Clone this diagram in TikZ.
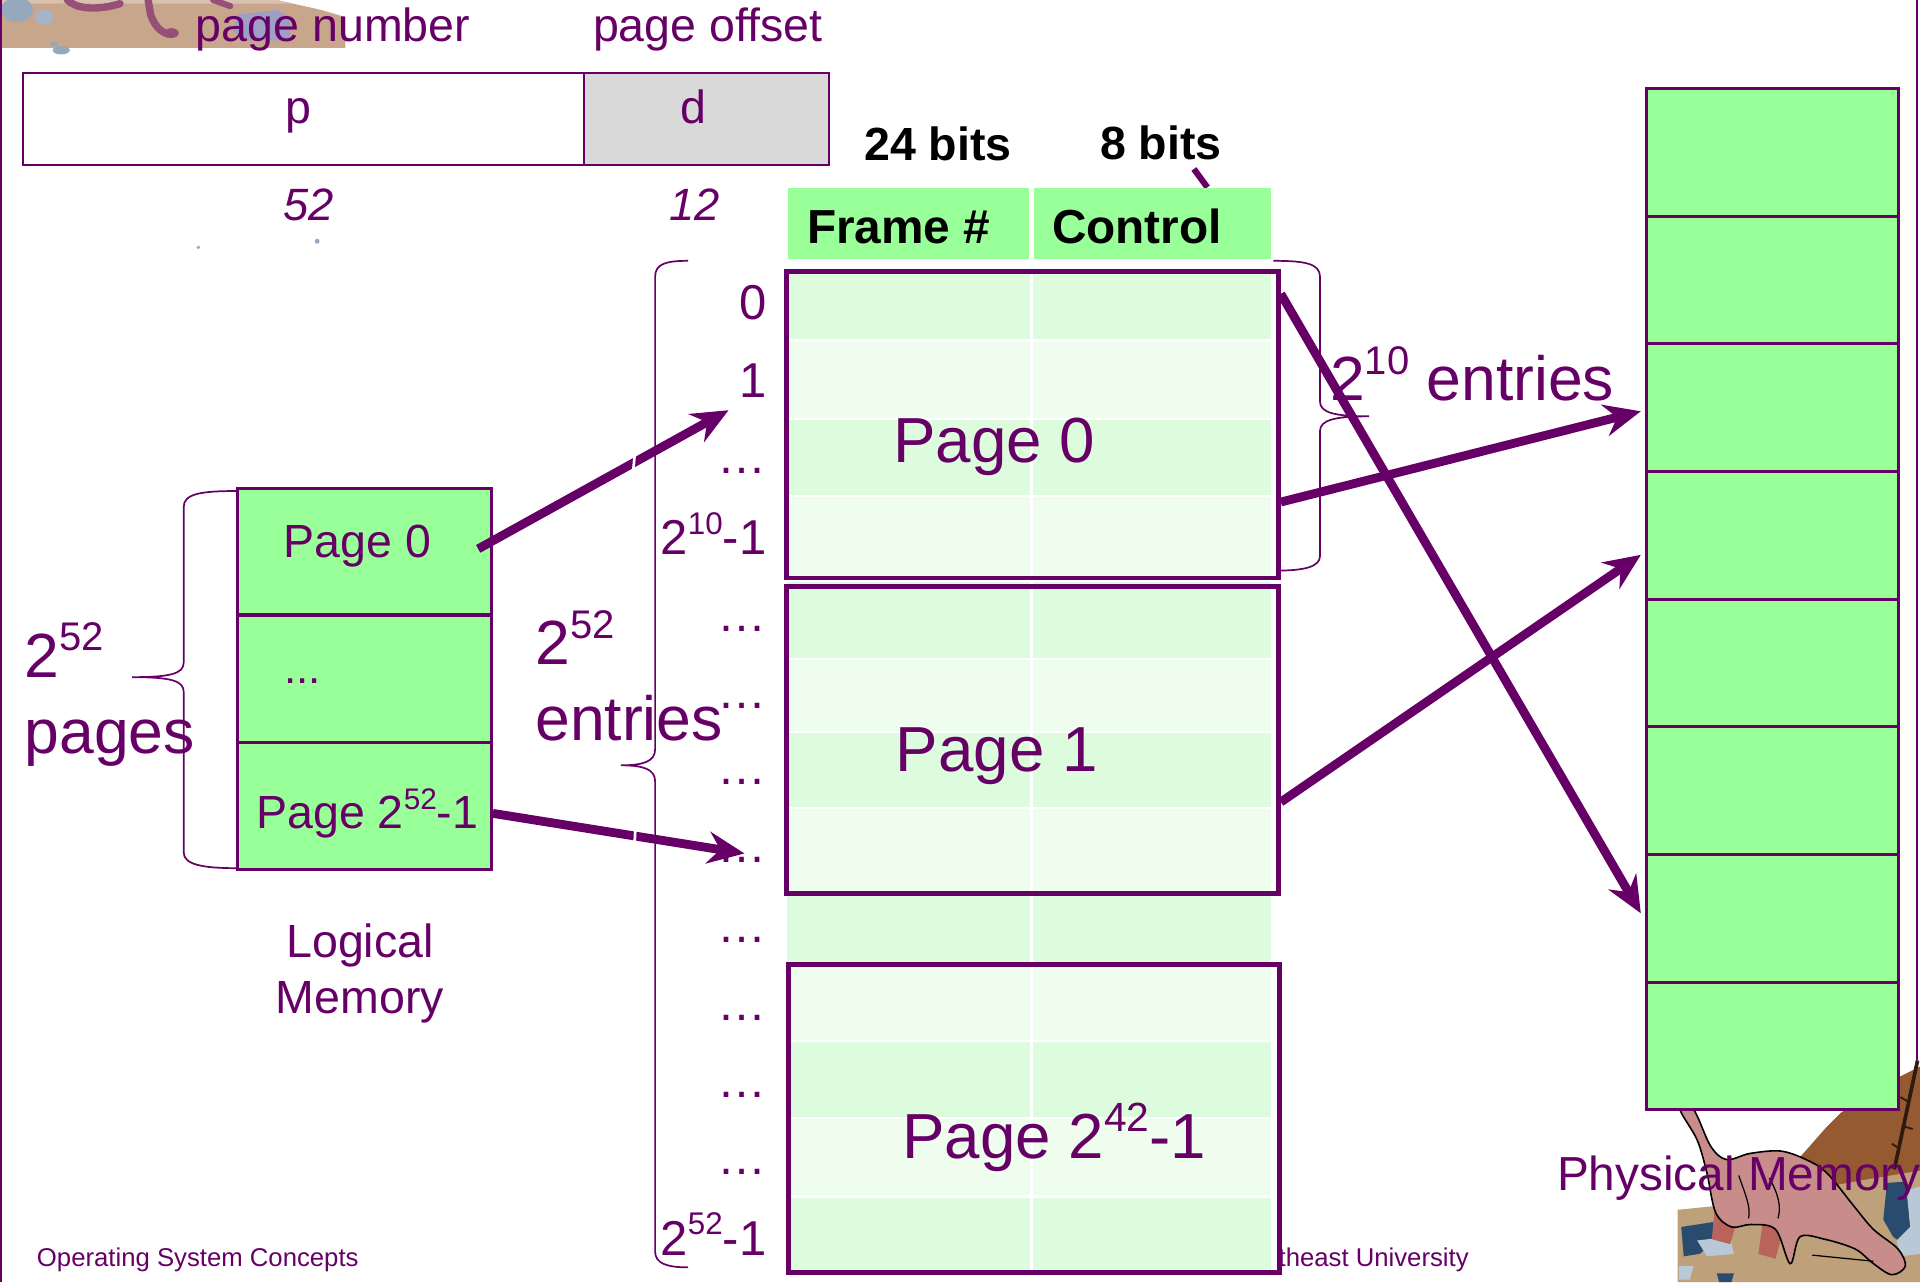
\documentclass[tikz,border=0pt]{standalone}
\usepackage{fontspec}
\setmainfont{Liberation Sans}
\usetikzlibrary{arrows.meta,calc}
\definecolor{plum}{RGB}{102,0,102}
\definecolor{memgreen}{RGB}{153,255,153}
\definecolor{rowA}{RGB}{221,252,221}
\definecolor{rowB}{RGB}{238,253,238}
\definecolor{offgray}{RGB}{217,217,217}
\definecolor{sand}{RGB}{200,166,140}
\definecolor{ground}{RGB}{190,160,122}
\definecolor{dirt}{RGB}{150,90,50}
\definecolor{dino}{RGB}{200,140,138}
\definecolor{dinoleg}{RGB}{185,100,90}
\definecolor{tentacle}{RGB}{150,80,120}
\definecolor{rockdark}{RGB}{40,75,110}
\definecolor{rocklight}{RGB}{185,200,215}
\definecolor{rockgrey}{RGB}{150,168,188}
\newcommand\sups[1]{\raisebox{0.42em}{\scalebox{0.64}{#1}}}
\newcommand\fs[1]{\fontsize{#1}{#1}\selectfont}
\tikzset{
  lbl/.style={text=plum, inner sep=0, anchor=base},
  lblw/.style={lbl, anchor=base west},
  lble/.style={lbl, anchor=base east},
  cell/.style={draw=plum, line width=2.5, fill=memgreen, anchor=north west, inner sep=0},
  pagebox/.style={draw=plum, line width=4, anchor=north west, inner sep=0, minimum width=402, minimum height=250},
  arr/.style={draw=plum, line width=7.2, -{Stealth[length=30, width=26, inset=10]}},
  bracepath/.style={draw=plum, line width=1.4},
}
\begin{document}
\begin{tikzpicture}[x=1pt, y=-1pt]
\useasboundingbox (0,0) rectangle (1568,1047);

% scenery, top left corner
\fill[sand] (0,0) -- (226,0) -- (262,8) -- (282,14) -- (282,39) -- (0,39) -- cycle;
\fill[sand!70!white] (0,0) -- (226,0) -- (240,3) -- (0,3) -- cycle;
\fill[rockgrey] (14,8) ellipse [x radius=13, y radius=10];
\fill[rockgrey!85!white] (36,14) ellipse [x radius=8, y radius=6];
\fill[rockgrey] (50,41) ellipse [x radius=7, y radius=3.5];
\fill[rockgrey] (44,36) ellipse [x radius=3.5, y radius=2];
\fill[gray!75!blue!60!white] (190,25) -- (194,12) -- (226,8) -- (237,14) -- (237,33) -- (200,33) -- cycle;
\draw[tentacle, line width=6, line cap=round] (55,0) .. controls (62,7) and (78,9) .. (98,3);
\draw[tentacle, line width=6, line cap=round] (121,0) -- (123,12) .. controls (126,20) and (130,26) .. (138,28);
\fill[tentacle] (140,27) ellipse [x radius=6, y radius=4];
\draw[tentacle, line width=5, line cap=round] (174,0) -- (188,5);
\fill[rockgrey] (162,202) circle [radius=1.5];
\fill[rockgrey] (259,197) circle [radius=2];

% scenery, bottom right corner
\fill[dirt] (1468,968) -- (1470,945) -- (1492,920) -- (1503,909) -- (1530,890) -- (1552,879) -- (1568,871) -- (1568,968) -- cycle;
\fill[ground] (1370,1047) -- (1370,988) -- (1400,985) -- (1460,975) -- (1520,964) -- (1568,956) -- (1568,1047) -- cycle;
\draw[black!70!dirt, line width=3] (1566,866) -- (1547,955);
\draw[black!70!dirt, line width=1.5] (1559,900) -- (1552,896) (1555,920) -- (1562,922) (1551,938) -- (1545,934);
\fill[rockdark] (1373,1002) -- (1399,998) -- (1402,1013) -- (1388,1024) -- (1375,1026) -- cycle;
\fill[rocklight] (1386,1013) -- (1413,1010) -- (1416,1024) -- (1394,1026) -- cycle;
\fill[rocklight] (1371,1034) -- (1383,1034) -- (1380,1045) -- (1371,1045) -- cycle;
\fill[rockdark] (1402,1040) -- (1416,1040) -- (1414,1047) -- (1404,1047) -- cycle;
\fill[rockdark] (1541,966) -- (1557,965) -- (1560,1002) -- (1557,1018) -- (1546,1010) -- (1538,996) -- cycle;
\fill[rocklight] (1557,972) -- (1568,969) -- (1568,1024) -- (1552,1026) -- (1549,1013) -- (1560,1002) -- cycle;
\fill[dinoleg] (1400,990) -- (1398,1012) -- (1413,1016) -- (1420,992) -- cycle;
\fill[dinoleg] (1440,995) -- (1436,1024) -- (1450,1028) -- (1458,998) -- cycle;
\draw[black, line width=1.3, fill=dino] plot[smooth cycle, tension=0.55] coordinates {
  (1372,906) (1386,931) (1394,958) (1401,990) (1414,1002) (1430,1000)
  (1450,1004) (1462,1032) (1470,1010) (1490,1012) (1515,1020) (1530,1032)
  (1545,1041) (1556,1034) (1550,1020) (1530,1004) (1514,985) (1492,958)
  (1475,947) (1454,940) (1429,942) (1410,947) (1397,936) (1383,906)};
\draw[black, line width=1] (1420,960) .. controls (1425,975) and (1430,985) .. (1428,995)
  (1445,962) .. controls (1452,975) and (1455,985) .. (1452,995)
  (1480,1025) -- (1530,1030);

% slide frame lines
\draw[plum, line width=1.5] (1,0) -- (1,1047);
\draw[plum, line width=1.5] (1565.5,0) -- (1565.5,866);

% virtual address layout
\node (pfield) [draw=plum, line width=1.5, fill=white, anchor=north west, minimum width=458, minimum height=75, inner sep=0] at (18,59) {};
\node (dfield) [draw=plum, line width=1.5, fill=offgray, anchor=north west, minimum width=200, minimum height=75, inner sep=0] at (476,59) {};
\node (pnum) [lbl, font=\fs{38}] at (272,34) {page number};
\node (poff) [lbl, font=\fs{38}] at (578,34) {page offset};
\node (ptxt) [lbl, font=\fs{38}] at (244,101) {p};
\node (dtxt) [lbl, font=\fs{38}] at (566,101) {d};
\node (pbits) [lbl, font=\fs{37}\itshape] at (252,180) {52};
\node (dbits) [lbl, font=\fs{37}\itshape] at (567,180) {12};

% page table entry layout
\node (b24) [lbl, text=black, font=\fs{38}\bfseries] at (766,131) {24 bits};
\node (b8) [lbl, text=black, font=\fs{38}\bfseries] at (948,130) {8 bits};
\draw[plum, line width=5] (975,138) -- (986,153);
\node (hdrF) [fill=memgreen, anchor=north west, minimum width=197, minimum height=58, inner sep=0] at (643,153) {};
\node (hdrC) [fill=memgreen, anchor=north west, minimum width=194, minimum height=58, inner sep=0] at (844,153) {};
\node (hdrFt) [lblw, text=black, font=\fs{39}\bfseries] at (659,199) {Frame \#};
\node (hdrCt) [lblw, text=black, font=\fs{39}\bfseries] at (859,199) {Control};

% page table rows
\foreach \ya/\yb/\c in {220/278/rowA, 278/342/rowB, 342/405/rowA, 405/472/rowB,
                        475/538/rowA, 538/598/rowB, 598/660/rowA, 660/728/rowB,
                        728/786/rowA,
                        786/850/rowB, 850/913/rowA, 913/977/rowB, 977/1037/rowA}
  \fill[\c] (643,\ya) rectangle (1038,\yb);
\foreach \y in {278,342,405,538,598,660,850,913,977}
  \draw[white, line width=2] (643,\y) -- (1038,\y);
\draw[white, line width=2.5] (842,153) -- (842,1037);

\node (pg0) [pagebox] at (640,220) {};
\node (pg1) [pagebox, minimum height=251] at (640,477) {};
\node (pg2) [pagebox, minimum width=401, minimum height=251] at (642,786) {};
\node (pg0t) [lbl, font=\fs{52}] at (812,378) {Page 0};
\node (pg1t) [lbl, font=\fs{52}] at (814,630) {Page 1};
\node (pg2t) [lbl, font=\fs{52}] at (861,946) {Page 2\sups{42}-1};

% page table indices
\node (ix0) [lble, font=\fs{40}] at (626,261) {0};
\node (ix1) [lble, font=\fs{40}] at (626,325) {1};
\node (ix2) [lble, font=\fs{40}] at (626,387) {…};
\node (ix3) [lble, font=\fs{40}] at (626,453) {2\sups{10}-1};
\foreach \n/\y in {4/516, 5/579, 6/641, 7/704, 8/770, 9/833, 10/896, 11/959}
  \node (ix\n) [lble, font=\fs{40}] at (626,\y) {…};
\node (ix12) [lble, font=\fs{40}] at (626,1025) {2\sups{52}-1};

% braces
\draw[bracepath] (562,213) .. controls (545,213) and (535,215) .. (535,226)
  -- (535,612) .. controls (535,622) and (525,625) .. (507,625)
  .. controls (525,625) and (535,628) .. (535,638)
  -- (535,1022) .. controls (535,1032) and (545,1035) .. (562,1035);
\draw[bracepath] (1040,213) .. controls (1065,213) and (1078,215) .. (1078,226)
  -- (1078,328) .. controls (1078,337) and (1090,340) .. (1118,340)
  .. controls (1090,340) and (1078,343) .. (1078,352)
  -- (1078,454) .. controls (1078,463) and (1065,466) .. (1042,466);
\draw[bracepath] (193,401) .. controls (165,401) and (150,403) .. (150,414)
  -- (150,541) .. controls (150,550) and (140,553) .. (108,553)
  .. controls (140,553) and (150,556) .. (150,565)
  -- (150,696) .. controls (150,706) and (165,709) .. (193,709);

\node (e10) [lblw, font=\fs{51}] at (1086,327) {2\sups{10} entries};
\node (e52a) [lblw, font=\fs{51}] at (437,543) {2\sups{52}};
\node (e52b) [lblw, font=\fs{51}] at (437,605) {entries};
\node (p52a) [lblw, font=\fs{51}] at (20,553) {2\sups{52}};
\node (p52b) [lblw, font=\fs{51}] at (20,615) {pages};

% logical memory
\node (lm1) [cell, minimum width=207, minimum height=103] at (193,398) {};
\node (lm2) [cell, minimum width=207, minimum height=104] at (193,501) {};
\node (lm3) [cell, minimum width=207, minimum height=104] at (193,605) {};
\node (lm1t) [lbl, font=\fs{38}] at (292,455) {Page 0};
\node (lm2t) [lbl, font=\fs{36}] at (247,558) {...};
\node (lm3t) [lbl, font=\fs{38}] at (300,677) {Page 2\sups{52}-1};
\node (lmA) [lbl, font=\fs{38}] at (294,782) {Logical};
\node (lmB) [lbl, font=\fs{38}] at (294,828) {Memory};

% physical memory frames
\foreach \k in {1,...,8}
  \node (pm\k) [cell, minimum width=206, minimum height=104.25] at (1343,{71+(\k-1)*104.25}) {};
\node (pmt) [lbl, font=\fs{39}] at (1420,972) {Physical Memory};

% footer
\node (foot1) [lblw, font=\fs{21}] at (30,1034) {Operating System Concepts};
\node (foot2) [lblw, font=\fs{21}] at (1044,1034) {theast University};

% translation arrows
\coordinate (hitA) at (595,335);
\coordinate (hitB) at (608,697);
\draw[arr] ($(lm1.east)+(-12,-2.5)$) -- (hitA);
\draw[arr] ($(lm3.east)+(0,6)$) -- (hitB);
\draw[arr] ($(pg0.north east)+(0,190)$) -- ($(pm3.west)+(-3,3)$);
\draw[arr] ($(pg0.north east)+(0,20)$) -- ($(pm7.west)+(-3,-4)$);
\draw[arr] ($(pg1.north east)+(0,178)$) -- ($(pm4.west)+(-3,16)$);
% thin white breaks where a text frame edge crosses the two left arrows
\draw[white, line width=2.2] (519,364) -- (517,386);
\draw[white, line width=2.2] (519,674) -- (518,694);
\end{tikzpicture}
\end{document}
